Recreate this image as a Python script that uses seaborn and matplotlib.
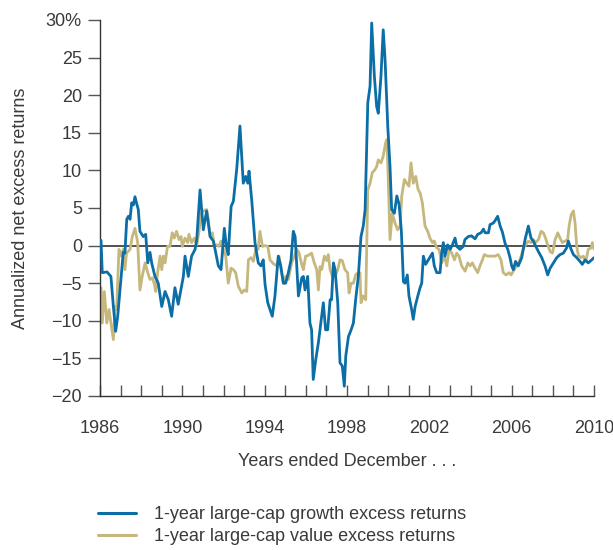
import matplotlib
matplotlib.use("Agg")
import matplotlib.pyplot as plt
import matplotlib.ticker as mticker
import seaborn as sns
import pandas as pd

growth_years = [
    1986.05, 1986.11, 1986.34, 1986.53, 1986.65, 1986.76, 1986.86, 1987.13, 1987.21, 1987.30,
    1987.38, 1987.46, 1987.54, 1987.62, 1987.70, 1987.78, 1987.86, 1987.94, 1988.10, 1988.22,
    1988.32, 1988.43, 1988.51, 1988.67, 1988.83, 1989.00, 1989.16, 1989.32, 1989.48, 1989.64,
    1989.80, 1990.05, 1990.13, 1990.29, 1990.45, 1990.62, 1990.70, 1990.86, 1991.02, 1991.18,
    1991.35, 1991.51, 1991.59, 1991.75, 1991.88, 1992.04, 1992.16, 1992.23, 1992.37, 1992.48,
    1992.64, 1992.80, 1992.96, 1993.08, 1993.18, 1993.24, 1993.37, 1993.53, 1993.69, 1993.82,
    1993.93, 1994.02, 1994.15, 1994.37, 1994.50, 1994.66, 1994.78, 1994.91, 1995.02, 1995.15,
    1995.28, 1995.39, 1995.48, 1995.56, 1995.64, 1995.80, 1995.88, 1995.96, 1996.09, 1996.20,
    1996.28, 1996.36, 1996.48, 1996.61, 1996.77, 1996.85, 1996.96, 1997.06, 1997.18, 1997.25,
    1997.34, 1997.42, 1997.55, 1997.66, 1997.77, 1997.87, 1997.94, 1998.07, 1998.20, 1998.31,
    1998.42, 1998.55, 1998.68, 1998.79, 1998.88, 1999.01, 1999.12, 1999.20, 1999.33, 1999.44,
    1999.52, 1999.65, 1999.76, 1999.85, 1999.98, 2000.09, 2000.17, 2000.30, 2000.42, 2000.53,
    2000.64, 2000.74, 2000.82, 2000.93, 2001.01, 2001.14, 2001.22, 2001.31, 2001.44, 2001.55,
    2001.63, 2001.71, 2001.82, 2001.95, 2002.15, 2002.24, 2002.36, 2002.52, 2002.60, 2002.68,
    2002.76, 2002.89, 2003.01, 2003.12, 2003.25, 2003.33, 2003.49, 2003.65, 2003.73, 2003.89,
    2004.05, 2004.22, 2004.35, 2004.51, 2004.63, 2004.71, 2004.87, 2004.95, 2005.11, 2005.19,
    2005.32, 2005.44, 2005.55, 2005.68, 2005.81, 2005.92, 2006.00, 2006.08, 2006.19, 2006.32,
    2006.49, 2006.65, 2006.81, 2006.94, 2007.05, 2007.17, 2007.30, 2007.46, 2007.62, 2007.75,
    2007.87, 2008.03, 2008.19, 2008.35, 2008.51, 2008.67, 2008.75, 2008.89, 2009.00, 2009.16,
    2009.32, 2009.43, 2009.57, 2009.72, 2009.89, 2010.00,
]
growth_values = [
    0.7, -3.6, -3.5, -4.1, -8.1, -11.4, -9.4, -0.9, -1.0, 3.5,
    3.9, 3.5, 5.7, 5.4, 6.5, 5.6, 4.8, 1.9, 1.2, 1.5,
    -2.3, -0.9, -2.3, -4.1, -5.0, -8.1, -6.1, -7.2, -9.4, -5.6,
    -7.8, -4.1, -1.4, -4.1, -1.4, -0.5, 0.8, 7.4, 2.1, 4.6,
    1.2, 0.6, -0.5, -2.7, -3.2, 2.3, -0.5, -1.2, 5.2, 5.9,
    10.1, 15.9, 8.3, 9.2, 8.3, 9.9, 6.1, 0.4, -2.3, -2.7,
    -1.9, -5.2, -7.6, -9.4, -6.7, -1.4, -2.7, -5.0, -5.0, -3.6,
    -1.9, 1.9, 1.2, -2.8, -6.7, -4.3, -4.1, -5.9, -4.1, -10.3,
    -11.2, -17.8, -15.2, -12.9, -9.4, -7.6, -11.2, -11.2, -7.2, -7.2,
    -2.3, -3.2, -7.6, -15.6, -16.0, -18.7, -14.7, -12.1, -11.2, -10.3,
    -7.2, -4.1, 1.2, 2.6, 4.8, 19.0, 21.2, 29.6, 22.5, 18.5,
    17.6, 22.5, 28.7, 24.7, 15.9, 10.5, 4.8, 4.3, 6.6, 5.5,
    2.0, -4.8, -5.0, -3.9, -6.7, -8.5, -9.8, -8.1, -6.7, -5.6,
    -5.0, -1.4, -2.5, -1.9, -1.0, -2.7, -3.6, -3.6, -1.0, 0.4,
    -1.4, 0.1, -0.5, 0.1, 1.0, -0.1, -0.5, -0.1, 0.8, 1.2,
    1.3, 0.9, 1.5, 1.7, 2.2, 1.7, 1.7, 2.8, 3.0, 3.3,
    3.9, 2.6, 1.8, 0.3, -0.5, -1.6, -2.7, -3.2, -2.1, -2.7,
    -1.6, 0.8, 2.6, 1.0, 0.6, -0.1, -0.8, -1.6, -2.7, -3.9,
    -3.0, -2.3, -1.6, -1.2, -1.0, -0.3, 0.6, -0.5, -1.2, -1.6,
    -2.1, -2.5, -1.9, -2.3, -1.9, -1.6,
]

value_years = [
    1986.05, 1986.11, 1986.21, 1986.33, 1986.44, 1986.53, 1986.65, 1986.73, 1986.81, 1986.92,
    1987.02, 1987.13, 1987.21, 1987.29, 1987.46, 1987.57, 1987.70, 1987.83, 1987.94, 1988.05,
    1988.19, 1988.32, 1988.43, 1988.54, 1988.63, 1988.71, 1988.80, 1988.92, 1989.00, 1989.08,
    1989.16, 1989.28, 1989.40, 1989.51, 1989.61, 1989.72, 1989.84, 1989.94, 1990.00, 1990.13,
    1990.26, 1990.32, 1990.45, 1990.58, 1990.70, 1990.81, 1990.91, 1991.02, 1991.18, 1991.26,
    1991.35, 1991.46, 1991.55, 1991.67, 1991.78, 1991.88, 1991.99, 1992.11, 1992.23, 1992.37,
    1992.48, 1992.59, 1992.72, 1992.89, 1993.01, 1993.13, 1993.21, 1993.34, 1993.45, 1993.57,
    1993.68, 1993.77, 1993.89, 1994.02, 1994.15, 1994.26, 1994.42, 1994.59, 1994.70, 1994.80,
    1994.91, 1995.02, 1995.15, 1995.31, 1995.44, 1995.57, 1995.67, 1995.80, 1995.88, 1995.99,
    1996.12, 1996.28, 1996.41, 1996.53, 1996.61, 1996.69, 1996.77, 1996.90, 1997.01, 1997.09,
    1997.18, 1997.29, 1997.42, 1997.55, 1997.66, 1997.77, 1997.90, 1998.03, 1998.10, 1998.20,
    1998.31, 1998.42, 1998.54, 1998.63, 1998.68, 1998.79, 1998.91, 1999.01, 1999.12, 1999.23,
    1999.36, 1999.44, 1999.52, 1999.65, 1999.76, 1999.88, 1999.94, 2000.01, 2000.09, 2000.20,
    2000.33, 2000.46, 2000.58, 2000.66, 2000.79, 2000.90, 2001.01, 2001.11, 2001.22, 2001.34,
    2001.45, 2001.55, 2001.66, 2001.79, 2001.92, 2002.03, 2002.15, 2002.24, 2002.36, 2002.47,
    2002.60, 2002.73, 2002.85, 2002.96, 2003.09, 2003.22, 2003.33, 2003.44, 2003.57, 2003.74,
    2003.87, 2003.98, 2004.09, 2004.22, 2004.35, 2004.46, 2004.58, 2004.67, 2004.83, 2005.03,
    2005.19, 2005.35, 2005.48, 2005.59, 2005.73, 2005.87, 2005.97, 2006.08, 2006.19, 2006.32,
    2006.46, 2006.57, 2006.68, 2006.81, 2006.94, 2007.05, 2007.17, 2007.30, 2007.43, 2007.54,
    2007.62, 2007.75, 2007.87, 2007.98, 2008.11, 2008.24, 2008.35, 2008.46, 2008.59, 2008.72,
    2008.79, 2008.89, 2009.00, 2009.08, 2009.16, 2009.24, 2009.37, 2009.48, 2009.60, 2009.72,
    2009.86, 2009.92, 2010.01,
]
value_values = [
    -5.6, -10.3, -6.1, -10.3, -8.5, -10.3, -12.5, -8.1, -8.5, -0.5,
    -1.4, -0.5, -3.2, -1.0, -0.5, 1.2, 2.3, 0.4, -5.9, -4.1,
    -2.3, -3.6, -4.5, -4.3, -5.0, -6.1, -3.6, -1.4, -3.2, -1.4,
    -2.3, -0.1, -0.1, 1.7, 1.0, 1.9, 0.8, 1.2, -0.1, 1.0,
    0.4, 1.5, 0.4, 1.0, 0.1, 1.9, 4.3, 4.6, 4.8, 3.5,
    1.2, 1.7, -0.1, 0.1, -0.1, 0.6, -0.5, -1.4, -5.0, -3.0,
    -3.2, -3.6, -5.4, -6.3, -5.9, -6.1, -1.9, -1.6, -2.1, -0.5,
    -0.5, 1.9, -0.1, 0.0, -0.1, -1.9, -2.4, -2.7, -1.4, -3.2,
    -5.0, -4.1, -4.5, -2.3, -1.4, -0.5, -1.0, -2.5, -3.2, -1.4,
    -1.3, -1.0, -2.3, -3.2, -5.9, -2.8, -3.2, -1.4, -2.0, -1.2,
    -3.2, -4.1, -4.1, -3.2, -1.9, -2.0, -3.2, -3.6, -6.3, -5.0,
    -5.0, -3.9, -3.6, -3.6, -7.6, -6.7, -7.2, 7.4, 8.3, 9.7,
    10.1, 10.5, 11.4, 11.0, 11.9, 13.7, 14.1, 8.3, 0.8, 4.3,
    3.0, 2.1, 2.6, 6.6, 8.8, 8.3, 7.9, 11.0, 8.3, 9.2,
    7.5, 7.0, 5.7, 2.6, 1.9, 1.0, 0.4, 0.6, -0.3, -0.5,
    -2.3, -1.4, -2.7, -0.5, -1.0, -1.9, -1.0, -1.4, -2.7, -3.4,
    -2.3, -2.7, -2.3, -3.0, -3.6, -2.7, -1.9, -1.2, -1.4, -1.4,
    -1.4, -1.2, -1.9, -3.6, -3.9, -3.6, -3.9, -3.4, -2.9, -2.5,
    -1.4, -0.3, 0.1, 0.6, 0.4, 0.8, 0.4, 0.8, 1.9, 1.7,
    1.2, 0.1, -0.8, -1.0, 0.8, 1.7, 1.0, 0.4, 0.6, 0.8,
    2.6, 4.1, 4.6, 3.0, -0.1, -1.3, -1.6, -1.4, -2.1, -0.5,
    -0.3, 0.4, -0.5,
]

series_labels = [
    "1-year large-cap growth excess returns",
    "1-year large-cap value excess returns",
]
y_ticks = [-20, -15, -10, -5, 0, 5, 10, 15, 20, 25, 30]
y_tick_labels = ["\u221220", "\u221215", "\u221210", "\u22125", "0", "5", "10", "15", "20", "25", "30%"]
x_major = [1986, 1990, 1994, 1998, 2002, 2006, 2010]

sns.set_style("ticks")
plt.rcParams["font.family"] = ["Liberation Sans", "DejaVu Sans"]

text_color = "#3a3a3a"
blue = "#0b6ea6"
tan = "#c6b77c"

df = pd.concat([
    pd.DataFrame({"year": growth_years, "ret": growth_values, "series": series_labels[0]}),
    pd.DataFrame({"year": value_years, "ret": value_values, "series": series_labels[1]}),
])

fig = plt.figure(figsize=(6.13, 5.5), dpi=100)
ax = fig.add_axes([100 / 613, 1 - 396 / 550, 494 / 613, 376 / 550])

ax.axhline(0, color="#222222", lw=1.1, zorder=1)
sns.lineplot(data=df, x="year", y="ret", hue="series", palette=[blue, tan],
             hue_order=series_labels[::-1] if False else series_labels,
             lw=2.0, ax=ax, legend=False, sort=False, estimator=None, zorder=3)
# draw value line beneath growth line order as in reference
for line, z in zip(ax.get_lines()[1:], [3, 2]):
    line.set_zorder(z)

ax.set_xlim(1986, 2010)
ax.set_ylim(-20, 30)
ax.set_yticks(y_ticks)
ax.set_yticklabels(y_tick_labels)
ax.set_xticks(x_major)
ax.set_xticklabels([str(v) for v in x_major])
ax.xaxis.set_minor_locator(mticker.MultipleLocator(1))

ax.tick_params(axis="y", direction="out", length=9, width=1, color="#555555",
               labelsize=13, labelcolor=text_color, pad=4)
ax.tick_params(axis="x", which="both", direction="in", length=8, width=1, color="#555555",
               labelsize=13, labelcolor=text_color, pad=17)

for side in ["top", "right"]:
    ax.spines[side].set_visible(False)
for side in ["left", "bottom"]:
    ax.spines[side].set_color("#333333")
    ax.spines[side].set_linewidth(1.0)

ax.set_xlabel("Years ended December . . .", fontsize=13, color=text_color, labelpad=12)
ax.set_ylabel("Annualized net excess returns", fontsize=13, color=text_color, labelpad=12)

from matplotlib.lines import Line2D
handles = [Line2D([], [], color=blue, lw=2.2), Line2D([], [], color=tan, lw=2.2)]
fig.legend(handles, series_labels, loc="upper left", bbox_to_anchor=(98 / 613, 1 - 506 / 550),
           frameon=False, fontsize=13, labelcolor=text_color, handlelength=2.1,
           handletextpad=1.0, labelspacing=0.3, borderpad=0, borderaxespad=0)

fig.savefig("out.png", dpi=100)
